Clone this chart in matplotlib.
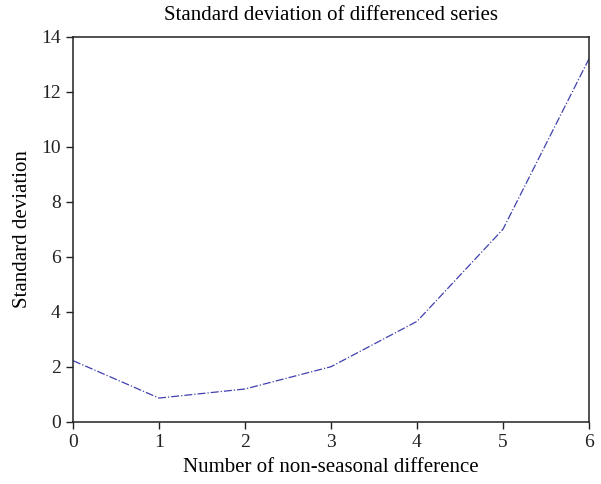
import matplotlib
matplotlib.use('Agg')
import matplotlib.pyplot as plt

# number of non-seasonal differences and std of the differenced series
n_diff = [0, 1, 2, 3, 4, 5, 6]
std_dev = [2.22, 0.86, 1.19, 2.0, 3.65, 7.0, 13.2]

plt.rcParams['font.family'] = ['Liberation Serif', 'DejaVu Serif']

fig = plt.figure(figsize=(6.01, 4.84), dpi=100)
ax = fig.add_axes([0.1215, 0.1287, 0.8585, 0.7953])

ax.plot(n_diff, std_dev, color='#4040b0', linestyle='-.', linewidth=0.9)

ax.set_xlim(0, 6)
ax.set_ylim(0, 14)
ax.set_xticks(range(0, 7))
ax.set_yticks(range(0, 15, 2))
ax.tick_params(direction='out', length=5, width=1, labelsize=14, colors='#222222', pad=4)
for s in ax.spines.values():
    s.set_linewidth(1.1)
    s.set_color('#222222')

ax.set_title('Standard deviation of differenced series', fontsize=15, pad=12)
ax.set_xlabel('Number of non-seasonal difference', fontsize=15, labelpad=5)
ax.set_ylabel('Standard deviation', fontsize=15, labelpad=6)

fig.savefig('out.png', dpi=100)
